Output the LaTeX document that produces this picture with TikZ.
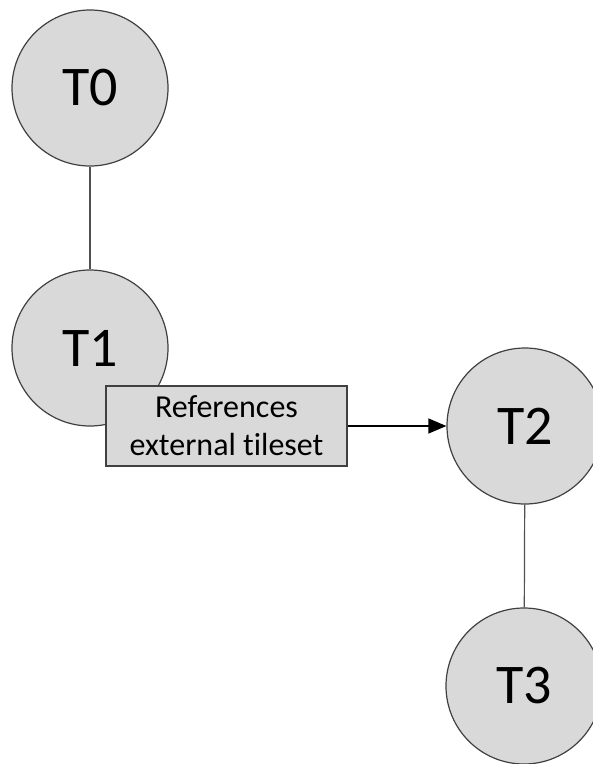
\documentclass[tikz,border=0pt]{standalone}
\usepackage{fontspec}
\setmainfont{Carlito}[Ligatures=NoCommon]
\usetikzlibrary{arrows,arrows.meta}
\usetikzlibrary{positioning}
\definecolor{kreis}{RGB}{217,217,217}
\definecolor{rand}{RGB}{64,64,64}
\definecolor{linie}{RGB}{80,80,80}

\tikzset{
    tile/.style={circle, draw=rand, fill=kreis, line width=1.2pt, minimum size=156pt, inner sep=0pt, font=\fontsize{56}{60}\selectfont},
    refbox/.style={rectangle, draw=rand, fill=kreis, line width=1.4pt, minimum width=241pt, minimum height=80pt, inner sep=0pt, align=center, font=\fontsize{32}{38}\selectfont}
}

\begin{document}
\begin{tikzpicture}[x=1pt, y=-1pt]

    \clip (0,0) rectangle (593,764);

    \node[tile] (t0) at (90,88) {T0};
    \node[tile] (t1) at (90,348) {T1};
    \node[tile] (t2) at (525,426) {T2};
    \node[tile] (t3) at (524,686) {T3};

    \draw[linie, line width=1.2pt] (t0) -- (t1);
    \draw[linie, line width=1.2pt] (t2) -- (t3);

    \node[refbox] (ref) at (226.5,426) {References\\external tileset};
    \draw[black, line width=1.2pt, -{Triangle[length=18pt, width=15pt]}] (ref) -- (t2);

\end{tikzpicture}
\end{document}
